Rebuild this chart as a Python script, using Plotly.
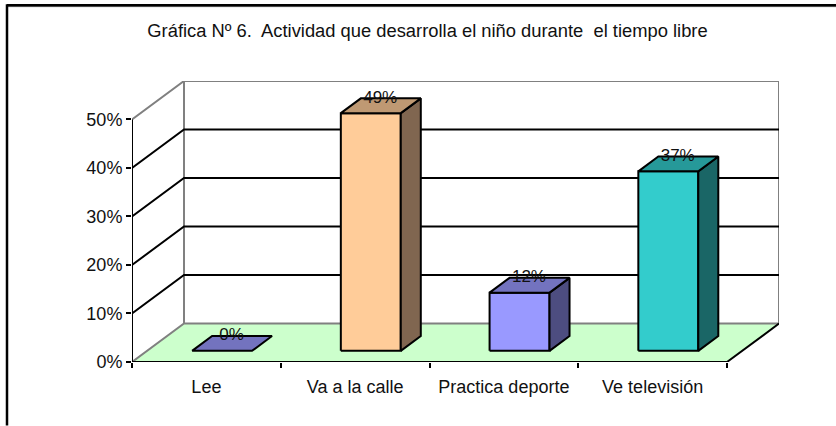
import plotly.graph_objects as go

TITLE = "Gráfica Nº 6.  Actividad que desarrolla el niño durante  el tiempo libre"
categories = ["Lee", "Va a la calle", "Practica deporte", "Ve televisión"]
values = [0.0, 0.49, 0.12, 0.37]
labels = ["0%", "49%", "12%", "37%"]
y_ticks = [0, 0.1, 0.2, 0.3, 0.4, 0.5]
y_tick_labels = ["0%", "10%", "20%", "30%", "40%", "50%"]

front_colors = ["#9999FF", "#FFCC99", "#9999FF", "#33CCCC"]
top_colors = ["#7373BF", "#BF9973", "#7373BF", "#269999"]
side_colors = ["#4D4D80", "#806650", "#4D4D80", "#1A6666"]

FONT = "Liberation Sans, Arial, sans-serif"
W, H = 836, 426
L, R, T, B = 132, 779, 81, 362.5
N = len(categories)
DX = 52 / 148.75      # full depth of the 3D box, in x axis units
DY = 38.5 / 486       # full depth of the 3D box, in y axis units
YMAX = 0.5
BAR_W = 0.403
BAR_SHIFT = 0.004
D0, D1 = 0.29, 0.675  # bar start / end inside the depth


def P(x, v, d=0.0):
    return x + d * DX, v + d * DY


def poly(pts, fill=None, line="#000000", width=2):
    xs = [p[0] for p in pts]
    ys = [p[1] for p in pts]
    return go.Scatter(
        x=xs, y=ys, mode="lines", hoverinfo="skip", showlegend=False, cliponaxis=False,
        fill="toself" if fill else None, fillcolor=fill,
        line=dict(color=line, width=width),
    )


fig = go.Figure()

# floor
fig.add_trace(poly([P(0, 0), P(N, 0), P(N, 0, 1), P(0, 0, 1), P(0, 0)], fill="#CCFFCC", line="rgba(0,0,0,0)", width=0))

# walls
GRAY = "#808080"
fig.add_trace(poly([P(0, 0), P(0, 0, 1), P(N, 0, 1)], line=GRAY))
fig.add_trace(poly([P(0, YMAX), P(0, YMAX, 1), P(N, YMAX, 1), P(N, 0, 1)], line=GRAY))
fig.add_trace(poly([P(0, 0, 1), P(0, YMAX, 1)], line=GRAY))

# gridlines
for t in y_ticks[1:-1]:
    fig.add_trace(poly([P(0, t), P(0, t, 1), P(N, t, 1)]))

# front axis edges
fig.add_trace(poly([P(0, 0), P(0, YMAX)]))
fig.add_trace(poly([P(0, 0), P(N, 0), P(N, 0, 1)]))

# bars
for i, v in enumerate(values):
    c = i + 0.5 + BAR_SHIFT
    x0, x1 = c - BAR_W / 2, c + BAR_W / 2
    top = [P(x0, v, D0), P(x1, v, D0), P(x1, v, D1), P(x0, v, D1), P(x0, v, D0)]
    side = [P(x1, 0, D0), P(x1, v, D0), P(x1, v, D1), P(x1, 0, D1), P(x1, 0, D0)]
    front = [P(x0, 0, D0), P(x1, 0, D0), P(x1, v, D0), P(x0, v, D0), P(x0, 0, D0)]
    if v > 0:
        fig.add_trace(poly(front, fill=front_colors[i]))
        fig.add_trace(poly(side, fill=side_colors[i]))
    fig.add_trace(poly(top, fill=top_colors[i]))

# value labels
lx, ly = [], []
for i, v in enumerate(values):
    a, _ = P(i + 0.5, v, (D0 + D1) / 2)
    _, b = P(0, v, D1)
    lx.append(a)
    ly.append(b)
fig.add_trace(go.Scatter(
    x=lx, y=ly, text=labels, mode="text", textposition="middle center", cliponaxis=False,
    hoverinfo="skip", showlegend=False, textfont=dict(family=FONT, size=17, color="#111111"),
))

fig.update_layout(
    width=W, height=H, autosize=False,
    margin=dict(l=L, r=W - R, t=T, b=H - B, pad=0),
    paper_bgcolor="white", plot_bgcolor="white", showlegend=False,
    font=dict(family=FONT, size=18, color="#111111"),
    title=dict(text=TITLE, x=427.5 / W, xref="container", xanchor="center",
               y=1 - 31 / H, yref="container", yanchor="middle",
               font=dict(family=FONT, size=18.35, color="#111111")),
    xaxis=dict(range=[0, N + DX], showgrid=False, zeroline=False, showline=False,
               tickmode="array", tickvals=[i + 0.5 for i in range(N)], ticktext=categories, ticks="",
               minor=dict(ticks="outside", tick0=0, dtick=1, ticklen=5, tickwidth=2, tickcolor="#000000", showgrid=False),
               ticklabelstandoff=12),
    yaxis=dict(range=[0, YMAX + DY], showgrid=False, zeroline=False, showline=False,
               tickmode="array", tickvals=y_ticks, ticktext=y_tick_labels,
               ticks="outside", ticklen=5, tickwidth=2, tickcolor="#000000"),
    shapes=[
        dict(type="line", xref="paper", yref="paper",
             x0=(7 - L) / (R - L), x1=(W - L) / (R - L), y0=(B - 6.5) / (B - T), y1=(B - 6.5) / (B - T),
             line=dict(color="#808080", width=1)),
        dict(type="line", xref="paper", yref="paper",
             x0=(7 - L) / (R - L), x1=(W - L) / (R - L), y0=(B - 5) / (B - T), y1=(B - 5) / (B - T),
             line=dict(color="#000000", width=2.5)),
        dict(type="line", xref="paper", yref="paper",
             x0=(7 - L) / (R - L), x1=(7 - L) / (R - L), y0=(B - 4) / (B - T), y1=(B - H) / (B - T),
             line=dict(color="#000000", width=2.5)),
    ],
)

fig.write_html("out.html", config={"displayModeBar": False},
               post_script="document.body.style.margin='0';document.documentElement.style.overflow='hidden';")
